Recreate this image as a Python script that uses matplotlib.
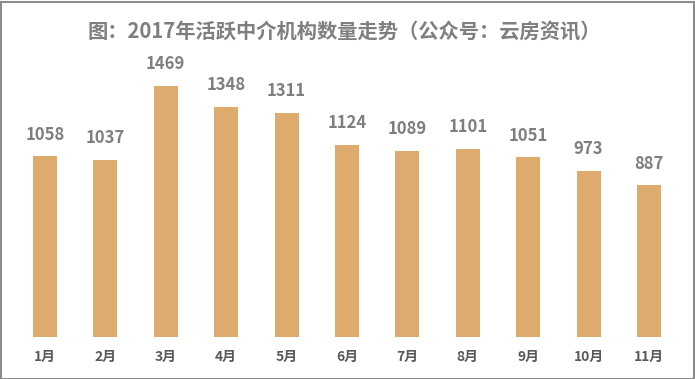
import matplotlib
matplotlib.use("Agg")
import matplotlib.pyplot as plt
from matplotlib.patches import Rectangle

plt.rcParams['font.family'] = ['Noto Sans CJK SC', 'DejaVu Sans']

months = ["1月", "2月", "3月", "4月", "5月", "6月", "7月", "8月", "9月", "10月", "11月"]
values = [1058, 1037, 1469, 1348, 1311, 1124, 1089, 1101, 1051, 973, 887]
title = "图：2017年活跃中介机构数量走势（公众号：云房资讯）"

W, H = 695, 379
fig = plt.figure(figsize=(W / 100, H / 100), dpi=100)
ax = fig.add_axes([14.8 / W, (H - 337) / H, 664.4 / W, 277 / H])

x = list(range(len(months)))
bars = ax.bar(x, values, width=0.4, color="#DDAB6D")
ax.set_xlim(-0.5, len(months) - 0.5)
ax.set_ylim(0, 277 / 0.1709)

for xi, v in zip(x, values):
    ax.annotate(str(v), (xi, v), xytext=(0, 9), textcoords="offset points",
                ha="center", va="bottom", fontsize=12, fontweight="bold", color="#7F7F7F")

ax.set_xticks(x)
ax.set_xticklabels(months, fontsize=10, fontweight="bold", color="#595959")
ax.tick_params(axis="x", length=0, pad=9)
ax.set_yticks([])
for s in ax.spines.values():
    s.set_visible(False)

fig.text(0.5 - 3 / W, 1 - 31 / H, title, ha="center", va="center", fontsize=14.6,
         fontweight="bold", color="#7F7F7F")

fig.patches.append(Rectangle((0.5 / W, 0.5 / H), 1 - 2 / W, 1 - 2 / H, transform=fig.transFigure,
                             fill=False, edgecolor="#8C8C8C", linewidth=1.5))

fig.savefig("out.png", dpi=100)
